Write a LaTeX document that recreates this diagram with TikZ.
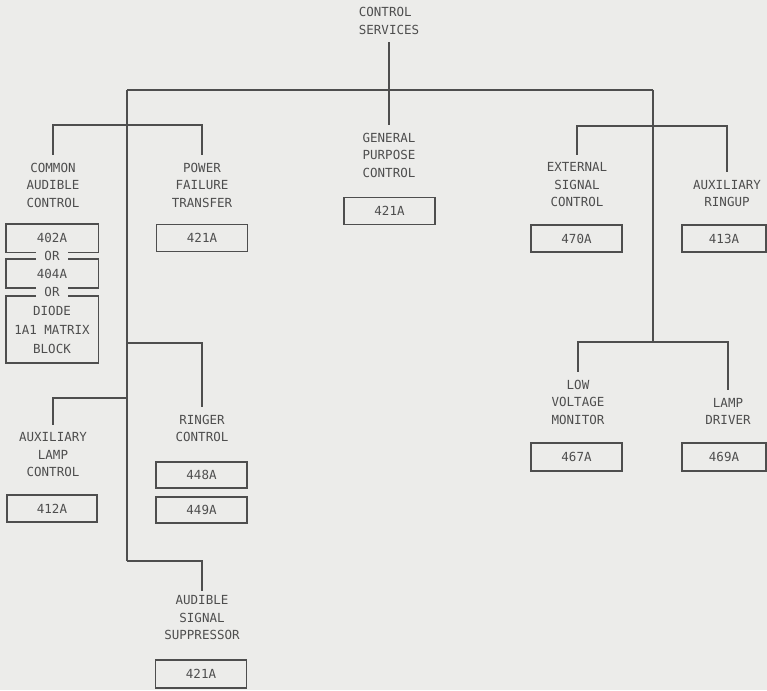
\documentclass[tikz,border=0pt]{standalone}
\usepackage{fontspec}
\usepackage{tikz}
\newfontfamily\plotfont{DejaVu Sans Mono}
\definecolor{paper}{RGB}{236,236,234}
\definecolor{ink}{RGB}{78,78,78}

\begin{document}
\begin{tikzpicture}[x=1pt, y=-1pt, ink, line width=1.6pt,
    lbl/.style={align=center, inner sep=0pt, outer sep=8pt,
      font=\plotfont\fontsize{12.5}{17.5}\selectfont},
    unit/.style={draw, minimum width=91pt, minimum height=27pt, inner sep=0pt,
      font=\plotfont\fontsize{12.5}{19}\selectfont},
    open/.style={unit, draw=none},
    orw/.style={inner xsep=8pt, inner ysep=0pt, font=\plotfont\fontsize{12.5}{14}\selectfont}]
    \fill [paper] (0, 0) rectangle (767, 690);
    \node [lbl, align=left] (cs) at (389, 21) {CONTROL\\SERVICES};
    \node [lbl] (gp) at (389, 155) {GENERAL\\PURPOSE\\CONTROL};
    \node [unit] (gpu) at (389.5, 211) {421A};
    \coordinate (bl) at (127, 90);
    \coordinate (br) at (653, 90);
    % left side
    \node [lbl] (cac) at (53, 185) {COMMON\\AUDIBLE\\CONTROL};
    \node [lbl] (pft) at (202, 185) {POWER\\FAILURE\\TRANSFER};
    \node [unit] (pftu) at (202, 238) {421A};
    \node [open] (c402) at (52, 238) {402A};
    \node [orw] (or1) at (52, 256) {OR};
    \node [open, minimum height=27pt] (c404) at (52, 273.5) {404A};
    \node [orw] (or2) at (52, 292) {OR};
    \node [open, minimum height=65pt, align=center] (diode) at (52, 329.5) {DIODE\\1A1 MATRIX\\BLOCK};
    \node [lbl] (rgc) at (202, 428.5) {RINGER\\CONTROL};
    \node [unit, minimum height=26pt] (r448) at (201.5, 475) {448A};
    \node [unit, minimum height=26pt] (r449) at (201.5, 510) {449A};
    \node [lbl] (alc) at (53, 455) {AUXILIARY\\LAMP\\CONTROL};
    \node [unit, minimum width=90pt] (alu) at (52, 508.5) {412A};
    \node [lbl, outer sep=5pt] (ass) at (202, 618) {AUDIBLE\\SIGNAL\\SUPPRESSOR};
    \node [unit, minimum height=28pt] (assu) at (201, 674) {421A};
    \coordinate (ls) at (127, 125);
    \coordinate (rgj) at (127, 343);
    \coordinate (alj) at (127, 398);
    \coordinate (asj) at (127, 561);
    % right side
    \node [lbl] (esc) at (577, 185) {EXTERNAL\\SIGNAL\\CONTROL};
    \node [unit] (escu) at (576.5, 238.5) {470A};
    \node [lbl] (arn) at (727, 193.5) {AUXILIARY\\RINGUP};
    \node [unit, minimum width=84pt] (arnu) at (724, 238.5) {413A};
    \node [lbl] (lvm) at (578, 402) {LOW\\VOLTAGE\\MONITOR};
    \node [unit, minimum height=28pt] (lvmu) at (576.5, 457) {467A};
    \node [lbl] (ldr) at (728, 411.5) {LAMP\\DRIVER};
    \node [unit, minimum width=84pt, minimum height=28pt] (ldru) at (724, 457) {469A};
    \coordinate (rs) at (653, 126);
    \coordinate (rj) at (653, 342);

    \draw (cs) to (gp);
    \draw (bl) to (br);
    \draw (bl) to (asj);
    \draw (cac) |- (ls) -| (pft);
    \draw (rgj) -| (rgc);
    \draw (alj) -| (alc);
    \draw (asj) -| (ass);
    \draw (br) to (rj);
    \draw (esc) |- (rs) -| (arn);
    \draw (lvm) |- (rj) -| (ldr);
    % the OR stack
    \draw (or1.west |- c402.south) -| (c402.north west) -- (c402.north east) |- (or1.east |- c402.south);
    \draw (or1.west |- c404.north) -| (c404.south west) -- (or2.west |- c404.south);
    \draw (or1.east |- c404.north) -| (c404.south east) -- (or2.east |- c404.south);
    \draw (or2.west |- diode.north) -| (diode.south west) -- (diode.south east) |- (or2.east |- diode.north);
\end{tikzpicture}
\end{document}
